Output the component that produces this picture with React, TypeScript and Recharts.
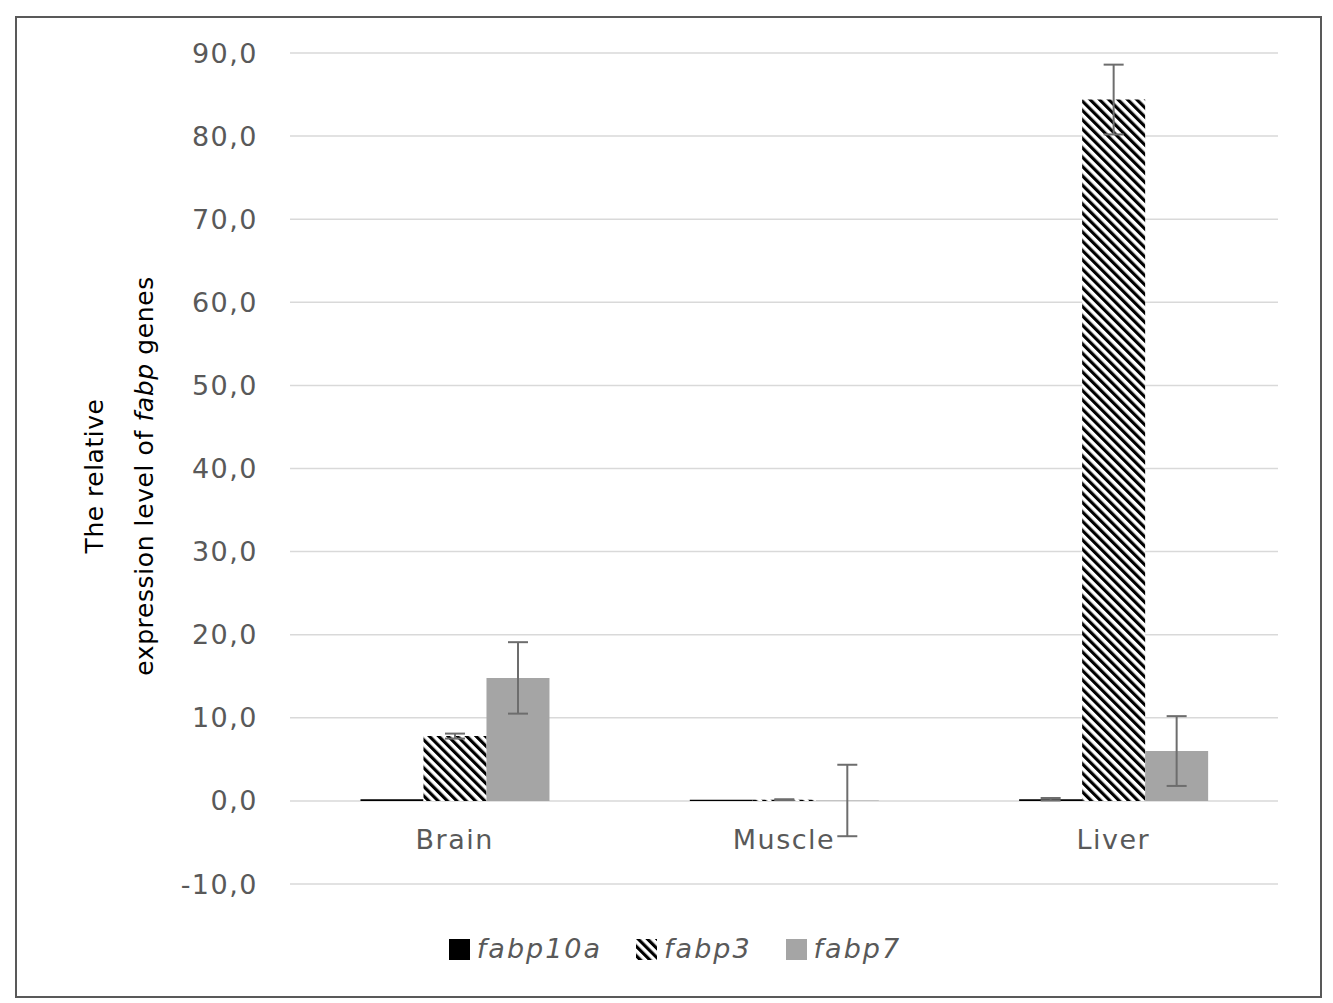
import React from 'react';
import { BarChart, Bar, XAxis, YAxis, CartesianGrid, ErrorBar, Legend } from 'recharts';

const categories = ['Brain', 'Muscle', 'Liver'];
const fabp10a = [0.2, 0.15, 0.2];
const fabp10aErr: (number | null)[] = [null, null, 0.15];
const fabp3 = [7.8, 0.15, 84.4];
const fabp3Err = [0.3, 0.05, 4.2];
const fabp7 = [14.8, 0.05, 6.0];
const fabp7Err = [4.3, 4.3, 4.2];
const yTicks = [-10, 0, 10, 20, 30, 40, 50, 60, 70, 80, 90];

const data = categories.map((c, i) => ({
  name: c,
  fabp10a: fabp10a[i],
  e10a: fabp10aErr[i],
  fabp3: fabp3[i],
  e3: fabp3Err[i],
  fabp7: fabp7[i],
  e7: fabp7Err[i],
}));

const GREY = '#595959';
const FONT = '"DejaVu Sans", sans-serif';

const fmt = (v: number) => v.toFixed(1).replace('.', ',');

const XTick = (props: any) => {
  const { x, y, payload } = props;
  return (
    <text x={x} y={y - 45} textAnchor="middle" dominantBaseline="central" fill={GREY}
      style={{ fontFamily: FONT, fontSize: 27, letterSpacing: 1.5 }}>
      {payload.value}
    </text>
  );
};

const YTitle = () => {
  const cy = 458;
  return (
    <g>
      <text x={77} y={cy} transform={`rotate(-90 77 ${cy})`} textAnchor="middle" dominantBaseline="central"
        fill="#000" style={{ fontFamily: FONT, fontSize: 25, letterSpacing: 0.5 }}>
        The relative
      </text>
      <text x={127} y={cy} transform={`rotate(-90 127 ${cy})`} textAnchor="middle" dominantBaseline="central"
        fill="#000" style={{ fontFamily: FONT, fontSize: 25, letterSpacing: 0.6 }}>
        expression level of <tspan fontStyle="italic">fabp</tspan> genes
      </text>
    </g>
  );
};

const legendItems = [
  { key: 'fabp10a', fill: '#000000' },
  { key: 'fabp3', fill: 'url(#diag)' },
  { key: 'fabp7', fill: '#a5a5a5' },
];

const LegendContent = () => (
  <div style={{ height: 72, display: 'flex', justifyContent: 'center', alignItems: 'flex-start', paddingLeft: 13, boxSizing: 'border-box' }}>
    {legendItems.map((it, i) => (
      <div key={it.key} style={{ display: 'flex', alignItems: 'center', marginLeft: i === 0 ? 0 : 34, marginTop: 8 }}>
        <svg width={21} height={21} style={{ display: 'block' }}>
          <rect x={0} y={0} width={21} height={21} fill={it.fill} />
        </svg>
        <span style={{ marginLeft: 7, fontFamily: FONT, fontStyle: 'italic', fontSize: 27, letterSpacing: 2, color: GREY, lineHeight: '34px' }}>
          {it.key}
        </span>
      </div>
    ))}
  </div>
);

export default function App() {
  return (
    <div>
      <svg width={0} height={0} style={{ position: 'absolute' }}>
        <defs>
          <pattern id="diag" patternUnits="userSpaceOnUse" width={6.6} height={6.6} patternTransform="rotate(-45)">
            <rect x={0} y={0} width={3.4} height={6.6} fill="#000" />
            <rect x={3.4} y={0} width={3.2} height={6.6} fill="#fff" />
          </pattern>
        </defs>
      </svg>
      <div style={{ position: 'absolute', left: 15, top: 16, width: 1307, height: 982, border: `2px solid ${GREY}`, boxSizing: 'border-box', background: '#fff' }}>
        <BarChart width={1303} height={978} data={data} margin={{ top: 35, right: 42, left: 0, bottom: 0 }}
          barCategoryGap="21.4%" barGap={0}>
          <CartesianGrid vertical={false} stroke="#d9d9d9" strokeWidth={1.5} />
          <XAxis dataKey="name" axisLine={false} tickLine={false} tickSize={0} tickMargin={0} height={40} tick={<XTick />} />
          <YAxis domain={[-10, 90]} ticks={yTicks} width={273} axisLine={false} tickLine={false} tickSize={0} tickMargin={32}
            tickFormatter={fmt} tick={{ fill: GREY, fontSize: 27, fontFamily: FONT, letterSpacing: 1.5 } as any}
            label={{ content: () => <YTitle /> } as any} />
          <Legend verticalAlign="bottom" wrapperStyle={{ left: 0, width: 1303 }} content={() => <LegendContent />} />
          <Bar dataKey="fabp10a" fill="#000" isAnimationActive={false}>
            <ErrorBar dataKey="e10a" width={10} stroke="#6d6d6d" strokeWidth={2} isAnimationActive={false} />
          </Bar>
          <Bar dataKey="fabp3" fill="url(#diag)" isAnimationActive={false}>
            <ErrorBar dataKey="e3" width={10} stroke="#6d6d6d" strokeWidth={2} isAnimationActive={false} />
          </Bar>
          <Bar dataKey="fabp7" fill="#a5a5a5" isAnimationActive={false}>
            <ErrorBar dataKey="e7" width={10} stroke="#6d6d6d" strokeWidth={2} isAnimationActive={false} />
          </Bar>
        </BarChart>
      </div>
    </div>
  );
}
